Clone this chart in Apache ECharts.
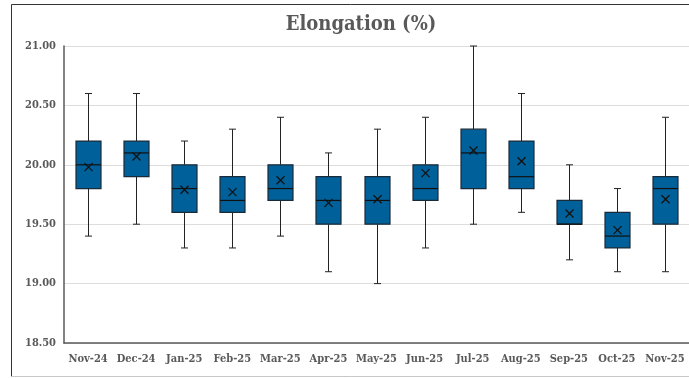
<!DOCTYPE html>
<html>
<head>
<meta charset="utf-8">
<script src="https://cdn.jsdelivr.net/npm/echarts@6/dist/echarts.min.js"></script>
<style>
html,body{margin:0;padding:0;background:#fff;}
#chart{width:689px;height:378px;}
</style>
</head>
<body>
<div id="chart"></div>
<script>
const categories = ['Nov-24','Dec-24','Jan-25','Feb-25','Mar-25','Apr-25','May-25','Jun-25','Jul-25','Aug-25','Sep-25','Oct-25','Nov-25'];
const minValues    = [19.4, 19.5, 19.3, 19.3, 19.4, 19.1, 19.0, 19.3, 19.5, 19.6, 19.2, 19.1, 19.1];
const q1Values     = [19.8, 19.9, 19.6, 19.6, 19.7, 19.5, 19.5, 19.7, 19.8, 19.8, 19.5, 19.3, 19.5];
const medianValues = [20.0, 20.1, 19.8, 19.7, 19.8, 19.7, 19.7, 19.8, 20.1, 19.9, 19.5, 19.4, 19.8];
const q3Values     = [20.2, 20.2, 20.0, 19.9, 20.0, 19.9, 19.9, 20.0, 20.3, 20.2, 19.7, 19.6, 19.9];
const maxValues    = [20.6, 20.6, 20.2, 20.3, 20.4, 20.1, 20.3, 20.4, 21.0, 20.6, 20.0, 19.8, 20.4];
const meanValues   = [19.98, 20.07, 19.79, 19.77, 19.87, 19.68, 19.71, 19.93, 20.12, 20.03, 19.59, 19.45, 19.71];
const yTicks = [18.5, 19.0, 19.5, 20.0, 20.5, 21.0];

const FONT = '"DejaVu Serif Condensed", "DejaVu Serif", serif';
const data = categories.map((c, i) => [i, minValues[i], q1Values[i], medianValues[i], q3Values[i], maxValues[i], meanValues[i]]);

function renderItem(params, api) {
  const i = api.value(0);
  const bw = api.size([1, 0])[0] * 0.52;
  const cap = 7;
  const pMin = api.coord([i, api.value(1)]);
  const pQ1 = api.coord([i, api.value(2)]);
  const pMed = api.coord([i, api.value(3)]);
  const pQ3 = api.coord([i, api.value(4)]);
  const pMax = api.coord([i, api.value(5)]);
  const pMean = api.coord([i, api.value(6)]);
  const x = Math.round(pQ1[0]) + 0.5;
  const lineStyle = {stroke: '#222', lineWidth: 1, fill: null};
  const m = 4;
  return {
    type: 'group',
    children: [
      {type: 'line', shape: {x1: x, y1: pMax[1], x2: x, y2: pQ3[1]}, style: lineStyle},
      {type: 'line', shape: {x1: x, y1: pQ1[1], x2: x, y2: pMin[1]}, style: lineStyle},
      {type: 'line', shape: {x1: x - cap/2, y1: pMax[1], x2: x + cap/2, y2: pMax[1]}, style: lineStyle},
      {type: 'line', shape: {x1: x - cap/2, y1: pMin[1], x2: x + cap/2, y2: pMin[1]}, style: lineStyle},
      {type: 'rect', shape: {x: x - bw/2, y: pQ3[1], width: bw, height: pQ1[1] - pQ3[1]},
        style: {fill: '#00609A', stroke: '#1b2a38', lineWidth: 1.2}},
      {type: 'line', shape: {x1: x - bw/2, y1: pMed[1], x2: x + bw/2, y2: pMed[1]}, style: {stroke: '#111', lineWidth: 1.2}},
      {type: 'line', shape: {x1: x - m, y1: pMean[1] - m, x2: x + m, y2: pMean[1] + m}, style: {stroke: '#111', lineWidth: 1.2}},
      {type: 'line', shape: {x1: x - m, y1: pMean[1] + m, x2: x + m, y2: pMean[1] - m}, style: {stroke: '#111', lineWidth: 1.2}}
    ]
  };
}

const chart = echarts.init(document.getElementById('chart'), null, {renderer: 'canvas'});
chart.setOption({
  animation: false,
  backgroundColor: '#fff',
  title: {
    text: 'Elongation (%)',
    left: 356, top: 10, textAlign: 'center',
    textStyle: {fontFamily: FONT, fontWeight: 'bold', fontSize: 20, color: '#595959'}
  },
  graphic: [
    {type: 'line', shape: {x1: 11.5, y1: 4.5, x2: 700, y2: 4.5}, style: {stroke: '#333', lineWidth: 1}, z: 100, silent: true},
    {type: 'line', shape: {x1: 11.5, y1: 4.5, x2: 11.5, y2: 376.5}, style: {stroke: '#333', lineWidth: 1}, z: 100, silent: true},
    {type: 'line', shape: {x1: 11.5, y1: 376.5, x2: 700, y2: 376.5}, style: {stroke: '#c8c8c8', lineWidth: 1}, z: 100, silent: true}
  ],
  grid: {left: 64, top: 46, bottom: 35, width: 632, containLabel: false},
  xAxis: {
    type: 'category', data: categories,
    axisLine: {lineStyle: {color: '#595959', width: 1.5}},
    axisTick: {show: false},
    axisLabel: {fontFamily: FONT, fontWeight: 'bold', fontSize: 11, color: '#595959', margin: 11, interval: 0},
    splitLine: {show: false}
  },
  yAxis: {
    type: 'value', min: 18.5, max: 21, interval: 0.5,
    axisLine: {show: true, lineStyle: {color: '#595959', width: 1.5}},
    axisTick: {show: false},
    axisLabel: {fontFamily: FONT, fontWeight: 'bold', fontSize: 11, color: '#595959', margin: 8,
      formatter: v => v.toFixed(2)},
    splitLine: {lineStyle: {color: '#dddddd', width: 1.2}}
  },
  series: [{
    type: 'custom', renderItem: renderItem, data: data,
    encode: {x: 0, y: [1, 5]}, clip: false
  }]
});
</script>
</body>
</html>
